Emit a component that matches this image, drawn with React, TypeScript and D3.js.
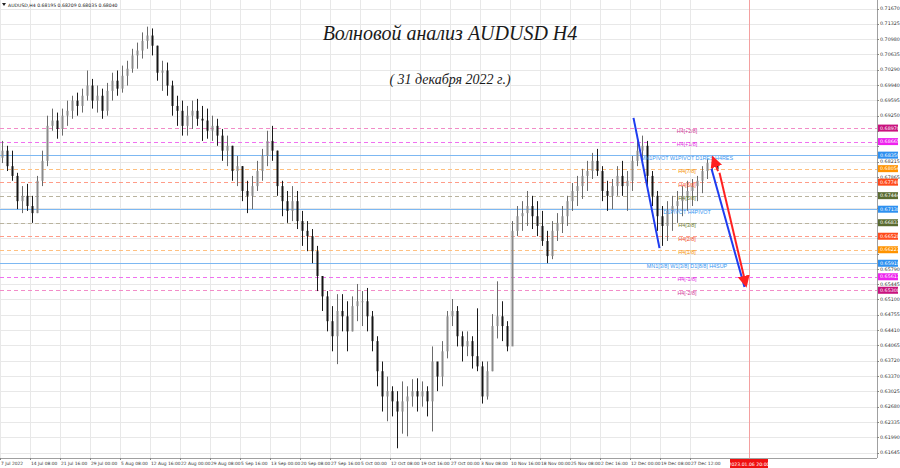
import React from 'react';
import * as d3 from 'd3';

const W = 900;
const H = 468;
const PLOT_RIGHT = 877;
const PLOT_BOTTOM = 458;

const headerText = 'AUDUSD,H4  0.68195 0.68209 0.68035 0.68040';
const titleText = 'Волновой анализ AUDUSD H4';
const subtitleText = '( 31 декабря 2022 г.)';

const timeLabels = [
  '7 Jul 2022', '14 Jul 08:00', '21 Jul 16:00', '29 Jul 00:00', '5 Aug 08:00', '12 Aug 16:00',
  '22 Aug 00:00', '29 Aug 08:00', '5 Sep 16:00', '13 Sep 00:00', '20 Sep 08:00', '27 Sep 16:00',
  '5 Oct 00:00', '12 Oct 08:00', '19 Oct 16:00', '27 Oct 00:00', '3 Nov 08:00', '10 Nov 16:00',
  '18 Nov 00:00', '25 Nov 08:00', '2 Dec 16:00', '12 Dec 00:00', '19 Dec 08:00', '27 Dec 12:00',
];
const barsPerLabel = 6;
const futureLabel = '2023.01.06 20:00';
const futureIndex = 149.8;

const priceTicks = [
  '0.71670', '0.71325', '0.70980', '0.70635', '0.70290', '0.69940', '0.69595', '0.69250',
  '0.68905', '0.68560', '0.68215', '0.67865', '0.67520', '0.67175', '0.66830', '0.66480',
  '0.66135', '0.65790', '0.65445', '0.65100', '0.64755', '0.64410', '0.64065', '0.63720',
  '0.63370', '0.63025', '0.62680', '0.62335', '0.61990', '0.61645',
];

const firstOpen = 0.6830;
const highs = [
  0.6868, 0.6857, 0.6846, 0.6796, 0.6766, 0.6771, 0.6744, 0.6789, 0.6846, 0.6925,
  0.6941, 0.6932, 0.6941, 0.6959, 0.6970, 0.6977, 0.6986, 0.7027, 0.7008, 0.6993,
  0.6986, 0.6999, 0.7022, 0.7027, 0.7038, 0.7049, 0.7076, 0.7090, 0.7113, 0.7126,
  0.7122, 0.7083, 0.7049, 0.7045, 0.7004, 0.6970, 0.6959, 0.6947, 0.6959, 0.6963,
  0.6947, 0.6941, 0.6925, 0.6918, 0.6895, 0.6880, 0.6857, 0.6834, 0.6811, 0.6778,
  0.6789, 0.6823, 0.6850, 0.6891, 0.6902, 0.6846, 0.6778, 0.6755, 0.6766, 0.6755,
  0.6710, 0.6687, 0.6669, 0.6631, 0.6563, 0.6529, 0.6495, 0.6522, 0.6522, 0.6506,
  0.6517, 0.6545, 0.6529, 0.6536, 0.6484, 0.6427, 0.6370, 0.6336, 0.6314, 0.6303,
  0.6325, 0.6314, 0.6330, 0.6332, 0.6325, 0.6314, 0.6404, 0.6359, 0.6416, 0.6484,
  0.6511, 0.6495, 0.6438, 0.6438, 0.6427, 0.6490, 0.6370, 0.6370, 0.6477, 0.6551,
  0.6506, 0.6461, 0.6687, 0.6721, 0.6732, 0.6755, 0.6744, 0.6732, 0.6710, 0.6665,
  0.6687, 0.6705, 0.6721, 0.6744, 0.6773, 0.6789, 0.6805, 0.6823, 0.6841, 0.6850,
  0.6811, 0.6778, 0.6782, 0.6811, 0.6823, 0.6800, 0.6834, 0.6868, 0.6880, 0.6868,
  0.6800, 0.6755, 0.6721, 0.6732, 0.6744, 0.6755, 0.6766, 0.6778, 0.6782, 0.6789,
  0.6811, 0.6827, 0.6830, 0.68209,
];
const lows = [
  0.6818, 0.6800, 0.6778, 0.6714, 0.6705, 0.6710, 0.6683, 0.6705, 0.6766, 0.6811,
  0.6891, 0.6873, 0.6880, 0.6902, 0.6918, 0.6925, 0.6932, 0.6959, 0.6941, 0.6932,
  0.6918, 0.6925, 0.6959, 0.6970, 0.6977, 0.6993, 0.7022, 0.7031, 0.7054, 0.7076,
  0.7061, 0.7004, 0.6981, 0.6970, 0.6925, 0.6902, 0.6880, 0.6880, 0.6895, 0.6902,
  0.6868, 0.6873, 0.6868, 0.6857, 0.6823, 0.6811, 0.6778, 0.6766, 0.6732, 0.6705,
  0.6714, 0.6755, 0.6778, 0.6811, 0.6823, 0.6744, 0.6698, 0.6683, 0.6687, 0.6669,
  0.6631, 0.6619, 0.6592, 0.6529, 0.6484, 0.6438, 0.6393, 0.6364, 0.6438, 0.6393,
  0.6438, 0.6461, 0.6450, 0.6438, 0.6393, 0.6314, 0.6257, 0.6235, 0.6246, 0.6174,
  0.6207, 0.6201, 0.6268, 0.6257, 0.6268, 0.6246, 0.6212, 0.6303, 0.6314, 0.6377,
  0.6450, 0.6404, 0.6370, 0.6382, 0.6354, 0.6348, 0.6275, 0.6284, 0.6348, 0.6422,
  0.6416, 0.6393, 0.6416, 0.6653, 0.6665, 0.6676, 0.6669, 0.6653, 0.6631, 0.6592,
  0.6601, 0.6642, 0.6660, 0.6676, 0.6710, 0.6721, 0.6737, 0.6755, 0.6782, 0.6789,
  0.6732, 0.6710, 0.6714, 0.6744, 0.6744, 0.6710, 0.6755, 0.6811, 0.6823, 0.6766,
  0.6721, 0.6665, 0.6631, 0.6642, 0.6665, 0.6683, 0.6698, 0.6710, 0.6721, 0.6732,
  0.6750, 0.6782, 0.6796, 0.68035,
];
const closes = [
  0.6846, 0.6811, 0.6789, 0.6732, 0.6744, 0.6721, 0.6705, 0.6778, 0.6823, 0.6902,
  0.6914, 0.6895, 0.6925, 0.6936, 0.6959, 0.6947, 0.6970, 0.6993, 0.6959, 0.6970,
  0.6936, 0.6981, 0.7004, 0.6986, 0.7015, 0.7031, 0.7061, 0.7072, 0.7094, 0.7106,
  0.7083, 0.7022, 0.7027, 0.6993, 0.6947, 0.6936, 0.6902, 0.6925, 0.6936, 0.6918,
  0.6914, 0.6891, 0.6902, 0.6880, 0.6846, 0.6857, 0.6800, 0.6811, 0.6755, 0.6744,
  0.6766, 0.6800, 0.6834, 0.6868, 0.6846, 0.6766, 0.6732, 0.6710, 0.6732, 0.6687,
  0.6665, 0.6653, 0.6619, 0.6563, 0.6517, 0.6461, 0.6427, 0.6484, 0.6472, 0.6438,
  0.6495, 0.6506, 0.6506, 0.6472, 0.6416, 0.6348, 0.6291, 0.6303, 0.6280, 0.6257,
  0.6280, 0.6291, 0.6303, 0.6291, 0.6303, 0.6280, 0.6370, 0.6336, 0.6393, 0.6472,
  0.6484, 0.6427, 0.6404, 0.6416, 0.6382, 0.6359, 0.6291, 0.6348, 0.6450, 0.6472,
  0.6450, 0.6404, 0.6665, 0.6698, 0.6705, 0.6721, 0.6698, 0.6676, 0.6642, 0.6608,
  0.6665, 0.6683, 0.6698, 0.6732, 0.6755, 0.6766, 0.6789, 0.6800, 0.6823, 0.6800,
  0.6755, 0.6744, 0.6766, 0.6789, 0.6766, 0.6778, 0.6823, 0.6846, 0.6857, 0.6789,
  0.6744, 0.6698, 0.6676, 0.6710, 0.6721, 0.6732, 0.6744, 0.6755, 0.6766, 0.6778,
  0.6800, 0.6818, 0.6820, 0.68040,
];

const levelValues = [0.68970, 0.68665, 0.68359, 0.68054, 0.67749, 0.67444, 0.67138, 0.66833, 0.66528, 0.66223, 0.65918, 0.65613, 0.65308];
const levelNames = [
  'H4[+2/8]', 'H4[+1/8]', 'MN1PIVOT W1PIVOT D1RES H4RES', 'H4[7/8]', 'H4[6/8]', 'H4[5/8]',
  'D1PIVOT H4PIVOT', 'H4[3/8]', 'H4[2/8]', 'H4[1/8]', 'MN1[3/8] W1[3/8] D1[8/8] H4SUP', 'H4[-1/8]', 'H4[-2/8]',
];
const levelKinds = ['p2', 'p1', 'pivot', 'o', 'r', 'g', 'pivot', 'g', 'r', 'o', 'pivot', 'p1', 'p2'];
const levelLabelIndex = 137.4;

const drawnLines = [
  { i1: 126.7, p1: 0.6920, i2: 131.9, p2: 0.6626, kind: 'blue' },
  { i1: 142.3, p1: 0.6805, i2: 148.9, p2: 0.6538, kind: 'blue' },
  { i1: 143.9, p1: 0.6796, i2: 149.2, p2: 0.6542, kind: 'red' },
  { i1: 143.6, p1: 0.6800, i2: 142.6, p2: 0.6830, kind: 'red' },
];

const kindStyle: Record<string, { line: string; dash: string | undefined; text: string; box: string }> = {
  p2: { line: '#F28CC8', dash: '4,3', text: '#D0409A', box: '#C8137E' },
  p1: { line: '#F070F0', dash: '4,3', text: '#E030E0', box: '#EE22EE' },
  pivot: { line: '#7DB8F2', dash: undefined, text: '#3A96F0', box: '#2E90F0' },
  o: { line: '#FFC080', dash: '4,3', text: '#F59000', box: '#FF9300' },
  r: { line: '#FF9C88', dash: '4,3', text: '#F24A1E', box: '#FF4A1A' },
  g: { line: '#B9B39E', dash: '4,3', text: '#6B7A2E', box: '#5A6B30' },
};

export default function App() {
  const x = d3.scaleLinear().domain([0, 1]).range([0, 5]);
  const y = d3.scaleLinear().domain([0.61645, 0.71670]).range([452.5, 8.5]);

  const bars = closes.map((c, i) => {
    const o = i === 0 ? firstOpen : closes[i - 1];
    return { o, h: highs[i], l: lows[i], c, i };
  });

  const visibleTicks = priceTicks.filter((t) => levelValues.every((v) => Math.abs(y(+t) - y(v)) >= 5));

  const font = 'Tahoma, "DejaVu Sans", sans-serif';

  return (
    <svg width={W} height={H} style={{ position: 'absolute', left: 0, top: 0, background: '#fff' }} fontFamily={font}>
      <defs>
        <marker id="redArrow" viewBox="0 0 10 10" refX="8" refY="5" markerWidth="6" markerHeight="6" orient="auto-start-reverse">
          <path d="M0,0 L10,5 L0,10 z" fill="#FF2020" />
        </marker>
      </defs>
      <rect x={0} y={0} width={W} height={H} fill="#fff" />
      {priceTicks.map((t) => (
        <line key={'hg' + t} x1={0} x2={PLOT_RIGHT} y1={Math.round(y(+t)) + 0.5} y2={Math.round(y(+t)) + 0.5} stroke="#E8E8E8" strokeWidth={1} />
      ))}
      {timeLabels.map((t, j) => (
        <line key={'vg' + t} x1={Math.round(x(j * barsPerLabel)) + 0.5} x2={Math.round(x(j * barsPerLabel)) + 0.5} y1={0} y2={PLOT_BOTTOM} stroke="#E8E8E8" strokeWidth={1} />
      ))}
      <line x1={Math.round(x(futureIndex)) + 0.5} x2={Math.round(x(futureIndex)) + 0.5} y1={0} y2={PLOT_BOTTOM} stroke="#F4A0A0" strokeWidth={1} />
      {levelValues.map((v, i) => {
        const s = kindStyle[levelKinds[i]];
        const yy = Math.round(y(v)) + 0.5;
        return <line key={'lv' + i} x1={0} x2={PLOT_RIGHT} y1={yy} y2={yy} stroke={s.line} strokeWidth={1} strokeDasharray={s.dash} />;
      })}
      {bars.map((b) => {
        const cx = x(b.i + 0.5);
        const up = b.c >= b.o;
        const top = y(Math.max(b.o, b.c));
        const bot = y(Math.min(b.o, b.c));
        return (
          <g key={'b' + b.i}>
            <line x1={cx} x2={cx} y1={y(b.h)} y2={y(b.l)} stroke={up ? '#6a6a6a' : '#1a1a1a'} strokeWidth={1} />
            <rect x={cx - 1} y={top} width={2} height={Math.max(1, bot - top)} fill={up ? '#8a8a8a' : '#151515'} />
          </g>
        );
      })}
      {levelValues.map((v, i) => {
        const s = kindStyle[levelKinds[i]];
        return (
          <text key={'lt' + i} x={x(levelLabelIndex)} y={y(v) + 4.5} fontSize={5.4} fill={s.text} textAnchor="middle" fontFamily='"Liberation Sans", Arial, sans-serif'>
            {levelNames[i]}
          </text>
        );
      })}
      {drawnLines.map((d, i) => (
        <line key={'dl' + i} x1={x(d.i1)} y1={y(d.p1)} x2={x(d.i2)} y2={y(d.p2)}
          stroke={d.kind === 'blue' ? '#1E3CF0' : '#FF2020'} strokeWidth={2}
          markerEnd={d.kind === 'red' ? 'url(#redArrow)' : undefined} />
      ))}
      <line x1={PLOT_RIGHT + 0.5} x2={PLOT_RIGHT + 0.5} y1={0} y2={PLOT_BOTTOM} stroke="#A0A0A0" />
      <line x1={0} x2={PLOT_RIGHT} y1={PLOT_BOTTOM + 0.5} y2={PLOT_BOTTOM + 0.5} stroke="#A0A0A0" />
      {priceTicks.map((t) => (
        <line key={'ptk' + t} x1={PLOT_RIGHT} x2={PLOT_RIGHT + 2} y1={Math.round(y(+t)) + 0.5} y2={Math.round(y(+t)) + 0.5} stroke="#888" />
      ))}
      {visibleTicks.map((t) => (
        <text key={'pt' + t} x={880} y={y(+t) + 1.7} fontSize={4.8} fill="#333">{t}</text>
      ))}
      {levelValues.map((v, i) => {
        const s = kindStyle[levelKinds[i]];
        return (
          <g key={'lb' + i}>
            <rect x={878} y={y(v) - 3.5} width={20} height={7} fill={s.box} />
            <text x={880} y={y(v) + 1.7} fontSize={4.8} fill="#fff">{v.toFixed(5)}</text>
          </g>
        );
      })}
      {timeLabels.map((t, j) => (
        <g key={'tl' + t}>
          <line x1={Math.round(x(j * barsPerLabel)) + 0.5} x2={Math.round(x(j * barsPerLabel)) + 0.5} y1={PLOT_BOTTOM} y2={PLOT_BOTTOM + 2} stroke="#888" />
          <text x={x(j * barsPerLabel) + 1} y={465} fontSize={4.4} fill="#333">{t}</text>
        </g>
      ))}
      <rect x={x(futureIndex) - 19} y={459} width={38} height={9} fill="#F01010" />
      <text x={x(futureIndex)} y={465.5} fontSize={4.6} fill="#fff" textAnchor="middle">{futureLabel}</text>
      <path d="M2,3 L6,3 L4,6 Z" fill="#222" />
      <text x={8} y={7} fontSize={4.6} fill="#222">{headerText}</text>
      <text x={450} y={40} fontSize={20} fontStyle="italic" fill="#1a1a1a" textAnchor="middle" fontFamily='"Liberation Serif", "DejaVu Serif", serif'>{titleText}</text>
      <text x={450} y={84} fontSize={14} fontStyle="italic" fill="#1a1a1a" textAnchor="middle" fontFamily='"Liberation Serif", "DejaVu Serif", serif'>{subtitleText}</text>
    </svg>
  );
}
